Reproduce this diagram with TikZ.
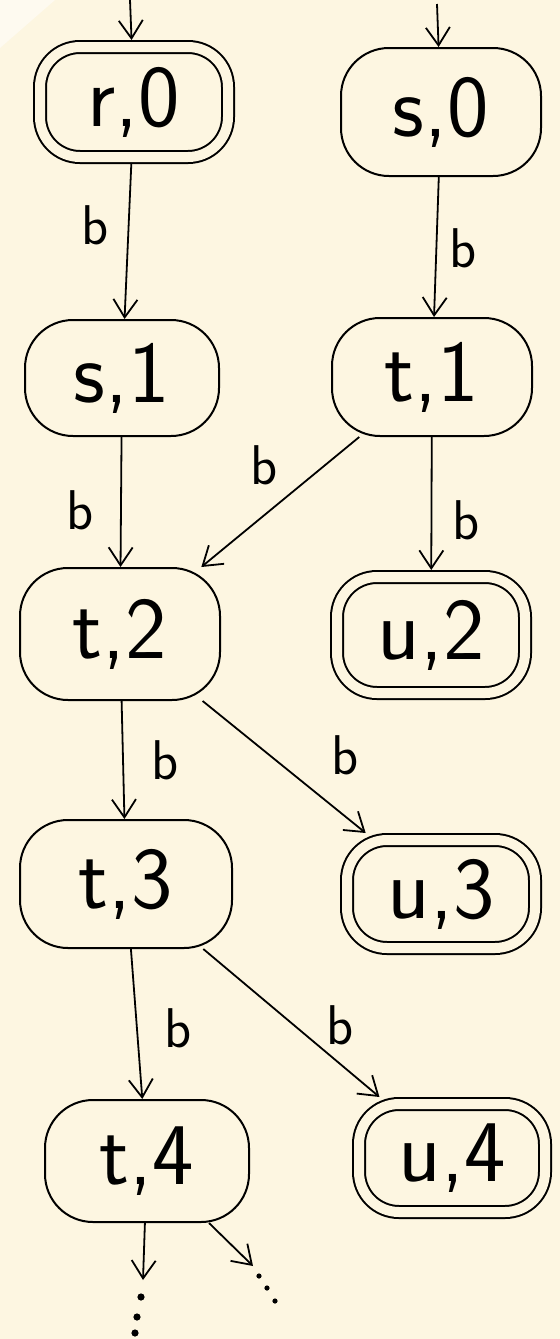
\documentclass[tikz,border=0pt]{standalone}
\usetikzlibrary{arrows.meta}
\definecolor{paper}{HTML}{FDF6E1}
\definecolor{paperlight}{HTML}{FEFAF0}
\begin{document}
\begin{tikzpicture}[x=0.5pt,y=-0.5pt,
  state/.style={draw, line width=1pt, rounded corners=24pt, inner sep=0pt,
    font=\sffamily\fontsize{44}{46}\selectfont},
  final/.style={state, double=paper, double distance=5pt, outer sep=3.5pt,
    rounded corners=20pt},
  edge/.style={line width=0.9pt, -{Straight Barb[length=9pt,width=12pt,line width=0.9pt]}},
  lbl/.style={font=\sffamily\fontsize{28}{30}\selectfont, inner sep=0pt},
  dot/.style={fill=black}]
  % paper
  \fill[paper] (0,0) rectangle (560,1339);
  \fill[paperlight] (0,0) -- (55,0) -- (0,48) -- cycle;
  \useasboundingbox (0,0) rectangle (560,1339);

  % states
  \node[final, minimum width=94pt, minimum height=55pt] (r0) at (134,102) {r,0};
  \node[state, minimum width=100pt, minimum height=64pt] (s0) at (441,112) {s,0};
  \node[state, minimum width=97pt, minimum height=58pt] (s1) at (122,378) {s,1};
  \node[state, minimum width=100pt, minimum height=59pt] (t1) at (432,377) {t,1};
  \node[state, minimum width=100pt, minimum height=66pt] (t2) at (120,634) {t,2};
  \node[final, minimum width=94pt, minimum height=58pt] (u2) at (431,635) {u,2};
  \node[state, minimum width=106pt, minimum height=64pt] (t3) at (126,884) {t,3};
  \node[final, minimum width=94pt, minimum height=54pt] (u3) at (441,894) {u,3};
  \node[state, minimum width=102pt, minimum height=61pt] (t4) at (147,1161) {t,4};
  \node[final, minimum width=93pt, minimum height=54pt] (u4) at (452,1158) {u,4};

  % entry points and open ends
  \coordinate (in0) at (130,0);
  \coordinate (in1) at (437,4);
  \coordinate (end1) at (143,1280);
  \coordinate (end2) at (253,1266);

  % transitions
  \draw[edge] (in0) -- (r0);
  \draw[edge] (in1) -- (s0);
  \draw[edge] (r0) -- (s1);
  \draw[edge] (s0) -- (t1);
  \draw[edge] (s1) -- (t2);
  \draw[edge] (t1) -- (t2);
  \draw[edge] (t1) -- (u2);
  \draw[edge] (t2) -- (t3);
  \draw[edge] (t2) -- (u3);
  \draw[edge] (t3) -- (t4);
  \draw[edge] (t3) -- (u4);
  \draw[edge] (t4) -- (end1);
  \draw[edge] (t4.315) -- (end2);

  % transition labels
  \node[lbl] (b1) at (95,225) {b};
  \node[lbl] (b2) at (463,248) {b};
  \node[lbl] (b3) at (80,510) {b};
  \node[lbl] (b4) at (264,465) {b};
  \node[lbl] (b5) at (466,520) {b};
  \node[lbl] (b6) at (165,760) {b};
  \node[lbl] (b7) at (345,755) {b};
  \node[lbl] (b8) at (178,1028) {b};
  \node[lbl] (b9) at (340,1025) {b};

  % continuation dots
  \fill[dot] (141,1297) circle (1.8pt);
  \fill[dot] (137,1317) circle (1.8pt);
  \fill[dot] (135,1333) circle (1.8pt);
  \fill[dot] (259,1276) circle (1.3pt);
  \fill[dot] (267,1288) circle (1.3pt);
  \fill[dot] (275,1301) circle (1.3pt);
\end{tikzpicture}
\end{document}
